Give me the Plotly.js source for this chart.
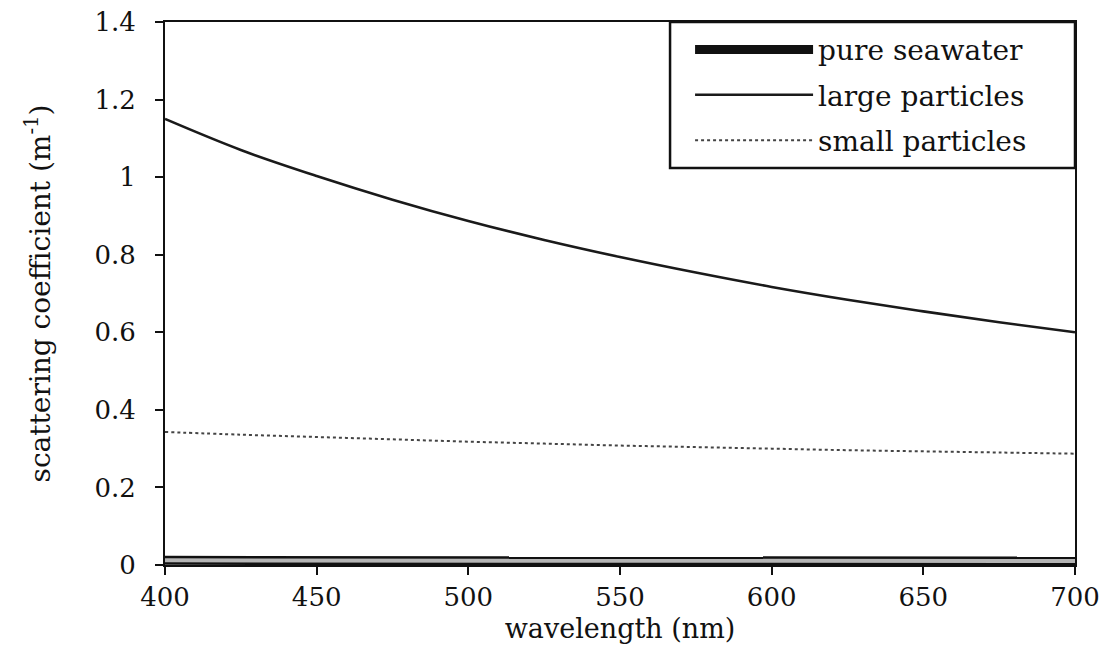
<!DOCTYPE html>
<html>
<head>
<meta charset="utf-8">
<script src="https://cdn.plot.ly/plotly-3.0.1.min.js"></script>
<style>html,body{margin:0;padding:0;background:#fff;}#chart{width:1101px;height:652px;}</style>
</head>
<body>
<div id="chart"></div>
<script>
// wavelengths (nm)
const wavelength = [400, 425, 450, 475, 500, 525, 550, 575, 600, 625, 650, 675, 700];
// scattering coefficients (m^-1)
const largeParticles = [1.150, 1.070, 1.003, 0.942, 0.887, 0.838, 0.794, 0.754, 0.717, 0.684, 0.654, 0.626, 0.600];
const smallParticles = [0.343, 0.336, 0.330, 0.324, 0.318, 0.313, 0.308, 0.304, 0.300, 0.296, 0.293, 0.290, 0.287];
const pureSeawater   = [0.012, 0.012, 0.011, 0.011, 0.011, 0.011, 0.011, 0.010, 0.010, 0.010, 0.010, 0.010, 0.010];

const seriesNames = ["pure seawater", "large particles", "small particles"];
const xTicks = [400, 450, 500, 550, 600, 650, 700];
const yTicks = [0, 0.2, 0.4, 0.6, 0.8, 1, 1.2, 1.4];
const yTickText = ["0", "0.2", "0.4", "0.6", "0.8", "1", "1.2", "1.4"];

const fontFam = "DejaVu Serif, Liberation Serif, serif";

const traces = [
  {x: wavelength, y: pureSeawater, name: seriesNames[0], mode: "lines",
   line: {color: "#111", width: 9}, legendgroup: "sw"},
  {x: wavelength, y: pureSeawater, name: seriesNames[0], mode: "lines",
   line: {color: "#b5b5b5", width: 4}, legendgroup: "sw", showlegend: false},
  {x: wavelength, y: largeParticles, name: seriesNames[1], mode: "lines",
   line: {color: "#1a1a1a", width: 2.6, shape: "spline"}, legendgroup: "lp"},
  {x: wavelength, y: smallParticles, name: seriesNames[2], mode: "lines",
   line: {color: "#444", width: 2, dash: "dot", shape: "spline"}, legendgroup: "spg"}
];

const layout = {
  width: 1101, height: 652,
  margin: {l: 165, r: 26, t: 22, b: 87},
  paper_bgcolor: "#fff", plot_bgcolor: "#fff",
  font: {family: fontFam, size: 26, color: "#111"},
  showlegend: true,
  shapes: [{
    type: "rect", xref: "paper", yref: "paper",
    x0: 0.555, x1: 1, y0: 0.731, y1: 1,
    line: {color: "#111", width: 2.5}, fillcolor: "rgba(0,0,0,0)", layer: "above"
  }],
  legend: {
    x: 0.577, y: 0.995, xanchor: "left", yanchor: "top",
    bgcolor: "rgba(0,0,0,0)", borderwidth: 0,
    font: {family: fontFam, size: 28, color: "#111"},
    itemwidth: 118, traceorder: "grouped", tracegroupgap: 6
  },
  xaxis: {
    range: [400, 700], tickvals: xTicks, ticktext: xTicks.map(String),
    ticks: "outside", ticklen: 8, tickwidth: 2, tickcolor: "#111",
    showline: true, linecolor: "#111", linewidth: 2, mirror: true,
    showgrid: false, zeroline: false,
    tickfont: {family: fontFam, size: 26, color: "#111"},
    title: {text: "wavelength (nm)", font: {family: fontFam, size: 27, color: "#111"}, standoff: 8}
  },
  yaxis: {
    range: [0, 1.4], tickvals: yTicks, ticktext: yTickText,
    ticks: "outside", ticklen: 8, tickwidth: 2, tickcolor: "#111",
    showline: true, linecolor: "#111", linewidth: 2, mirror: true,
    showgrid: false, zeroline: false,
    tickfont: {family: fontFam, size: 26, color: "#111"},
    ticklabelstandoff: 14,
    title: {text: "scattering coefficient (m<sup>-1</sup>)", font: {family: fontFam, size: 28, color: "#111"}, standoff: 36}
  }
};

Plotly.newPlot("chart", traces, layout, {displayModeBar: false, staticPlot: true});
</script>
</body>
</html>
